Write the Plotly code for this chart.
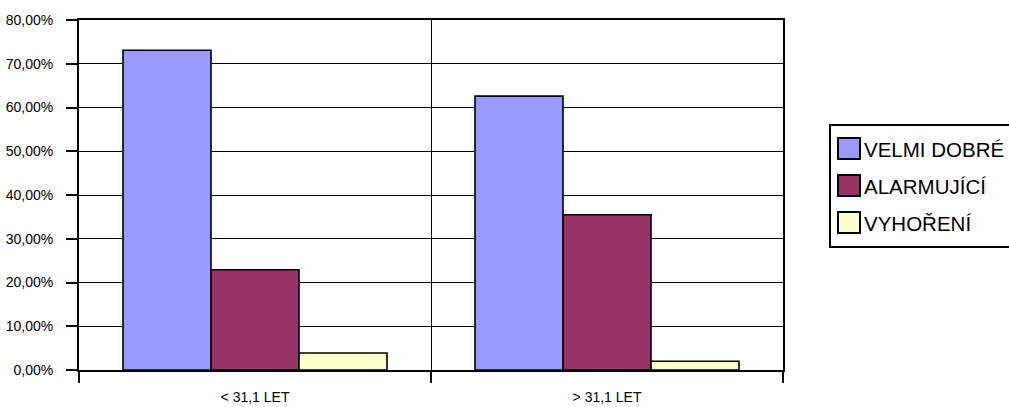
import plotly.graph_objects as go

# Age groups and share of respondents in each burnout category
categories = ["< 31,1 LET", "> 31,1 LET"]
series_names = ["VELMI DOBRÉ", "ALARMUJÍCÍ", "VYHOŘENÍ"]
velmi_dobre = [0.731, 0.626]
alarmujici = [0.229, 0.355]
vyhoreni = [0.039, 0.020]
series_values = [velmi_dobre, alarmujici, vyhoreni]
series_colors = ["#9999FF", "#993366", "#FFFFCC"]

W, H = 1009, 407
L, R, T, B = 79, 226, 20, 37
PW, PH = W - L - R, H - T - B


def px_x(x):
    return (x - L) / PW


def px_y(y):
    return (H - B - y) / PH


fig = go.Figure()
for name, vals, col in zip(series_names, series_values, series_colors):
    fig.add_trace(go.Bar(
        x=categories, y=vals, name=name,
        marker=dict(color=col, line=dict(color="black", width=1.6)),
        showlegend=False,
    ))

# Legend drawn as a framed box with colour squares
shapes = [dict(type="rect", xref="paper", yref="paper",
               x0=px_x(830), x1=px_x(1020), y0=px_y(247), y1=px_y(125),
               line=dict(color="black", width=2), fillcolor="white")]
annotations = []
for i, (name, col) in enumerate(zip(series_names, series_colors)):
    cy = 149 + i * 37
    shapes.append(dict(type="rect", xref="paper", yref="paper",
                       x0=px_x(838), x1=px_x(860), y0=px_y(cy + 10), y1=px_y(cy - 11),
                       line=dict(color="black", width=2), fillcolor=col))
    annotations.append(dict(xref="paper", yref="paper", x=px_x(862), y=px_y(cy),
                            xanchor="left", yanchor="middle", text=name, showarrow=False,
                            font=dict(family="Liberation Sans, Arial", size=20.5, color="black")))

fig.update_layout(
    width=W, height=H, autosize=False,
    margin=dict(l=L, r=R, t=T, b=B, pad=0),
    paper_bgcolor="white", plot_bgcolor="white",
    barmode="group", bargap=0.25, bargroupgap=0,
    separators=",.",
    font=dict(family="Liberation Sans, Arial", size=14, color="black"),
    shapes=shapes, annotations=annotations,
    xaxis=dict(
        type="category", tickson="boundaries", automargin=False,
        showgrid=True, gridcolor="black", gridwidth=1.3,
        showline=True, linecolor="black", linewidth=2, mirror=True,
        ticks="outside", ticklen=11, tickcolor="black", tickwidth=1.5,
        ticklabelstandoff=13, tickfont=dict(size=14),
    ),
    yaxis=dict(
        range=[0, 0.8], dtick=0.1, tickformat=".2%", automargin=False,
        showgrid=True, gridcolor="black", gridwidth=1.3,
        showline=True, linecolor="black", linewidth=2, mirror=True,
        ticks="outside", ticklen=11, tickcolor="black", tickwidth=1.5,
        ticklabelstandoff=10, tickfont=dict(size=14), zeroline=False,
    ),
)

fig.write_html("out.html")
